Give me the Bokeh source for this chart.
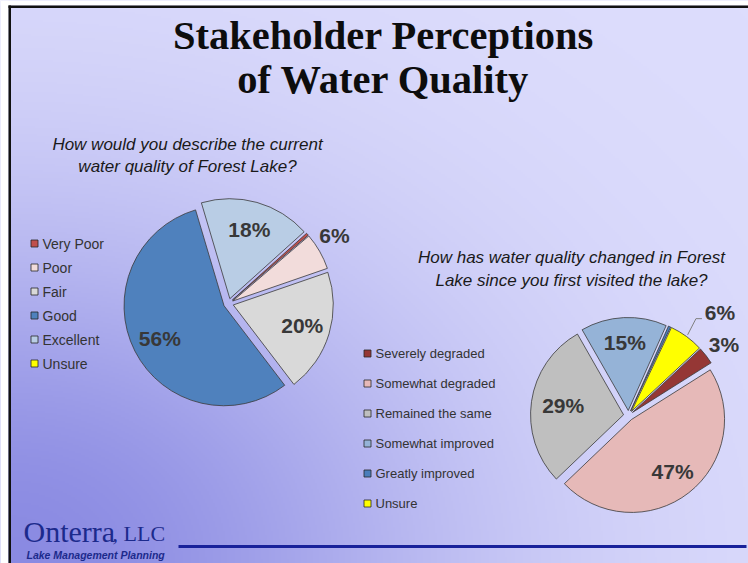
import numpy as np
from bokeh.plotting import figure
from bokeh.models import Range1d, ColumnDataSource
from bokeh.core.properties import value
from bokeh.embed import file_html
from bokeh.resources import INLINE

# ---------------- data ----------------
title_lines = ["Stakeholder Perceptions", "of Water Quality"]

q1_lines = ["How would you describe the current", "water quality of Forest Lake?"]
q1_categories = ["Very Poor", "Poor", "Fair", "Good", "Excellent", "Unsure"]
q1_values = [0.4, 6, 20, 56, 18, 0]
q1_labels = ["", "6%", "20%", "56%", "18%", ""]

q2_lines = ["How has water quality changed in Forest", "Lake since you first visited the lake?"]
q2_categories = ["Severely degraded", "Somewhat degraded", "Remained the same",
                 "Somewhat improved", "Greatly improved", "Unsure"]
q2_values = [3, 47, 29, 15, 0.4, 6]
q2_labels = ["3%", "47%", "29%", "15%", "", "6%"]

logo_name = "Onterra"
logo_suffix = ", LLC"
logo_tagline = "Lake Management Planning"

# ---------------- styles ----------------
q1_colors = ["#c0504d", "#f2dcdb", "#d9d9d9", "#4f81bd", "#b9cde5", "#ffff00"]
q2_colors = ["#953735", "#e6b9b8", "#bfbfbf", "#95b3d7", "#4a7ebb", "#ffff00"]
q1_label_dist = [0, 1.26, 0.77, 0.77, 0.77, 0]
q1_label_turn = [0, -3, 0, 0, 0, 0]
q2_label_dist = [1.28, 0.77, 0.71, 0.79, 0, 1.48]
q2_label_turn = [1, 0, 0, 0, 0, 5.4]

W, H = 748, 563


def X(sx):
    return sx


def Y(sy):
    return H - sy


p = figure(width=W, height=H, x_range=Range1d(0, W), y_range=Range1d(0, H),
           output_backend="svg", toolbar_location=None, min_border=0,
           x_axis_location=None, y_axis_location=None)
p.grid.visible = False
p.outline_line_color = None
p.background_fill_color = "#dcdcfc"
p.border_fill_color = "white"

# ---------------- gradient background ----------------
nx, ny = 374, 282
gx = (np.arange(nx) + 0.5) * W / nx
gy = (np.arange(ny) + 0.5) * H / ny
GX, GY = np.meshgrid(gx, gy)
SX = GX
SY = H - GY
d = np.exp(-(((SX - 8) / 450.0) ** 2 + ((SY - 563) / 350.0) ** 2))
light = np.array([221.0, 221.0, 252.0])
dark = np.array([138.0, 138.0, 226.0])
rgb = light + (dark - light) * d[..., None]
img = np.zeros((ny, nx), dtype=np.uint32)
view = img.view(dtype=np.uint8).reshape((ny, nx, 4))
view[..., :3] = np.round(rgb).astype(np.uint8)
view[..., 3] = 255
p.image_rgba(image=[img], x=0, y=0, dw=W, dh=H)

# white page area outside the slide, then the frame lines (top and left)
p.quad(left=[0, 0], right=[8, W], bottom=[0, Y(5)], top=[H, H],
       fill_color="white", line_color=None)
p.quad(left=[8, 8], right=[W, 10.5], bottom=[Y(7.5), 0], top=[Y(5), Y(5)],
       fill_color="#111111", line_color=None)

# ---------------- title ----------------
p.text(x=[X(383), X(383)], y=[Y(35), Y(79)], text=title_lines,
       text_font=value("Liberation Serif"), text_font_style="bold",
       text_font_size="40.5px", text_align="center", text_baseline="middle",
       text_color="#0d0d0d")

# ---------------- questions ----------------
p.text(x=[X(187), X(187)], y=[Y(144), Y(166)], text=q1_lines,
       text_font=value("Liberation Sans"), text_font_style="italic",
       text_font_size="17px", text_align="center", text_baseline="middle",
       text_color="#1a1a1a")
p.text(x=[X(571), X(571)], y=[Y(257), Y(280)], text=q2_lines,
       text_font=value("Liberation Sans"), text_font_style="italic",
       text_font_size="17px", text_align="center", text_baseline="middle",
       text_color="#1a1a1a")


# ---------------- pies ----------------
def draw_pie(values, colors, labels, ldist, lturn, cx_s, cy_s, r, e, start_deg):
    v = np.asarray(values, float)
    frac = v / v.sum()
    ends = start_deg + np.cumsum(frac) * 360.0
    starts = ends - frac * 360.0
    mids = np.radians((starts + ends) / 2.0)
    cx, cy = X(cx_s), Y(cy_s)
    keep = v > 0
    src = ColumnDataSource(dict(
        x=list((cx + e * np.sin(mids))[keep]),
        y=list((cy + e * np.cos(mids))[keep]),
        start=list(np.radians(90 - ends)[keep]),
        end=list(np.radians(90 - starts)[keep]),
        color=[c for c, k in zip(colors, keep) if k]))
    p.wedge(x="x", y="y", radius=r, start_angle="start", end_angle="end",
            fill_color="color", line_color="#3a3a3a", line_width=0.8, source=src)
    lx, ly, lt = [], [], []
    for i, lab in enumerate(labels):
        if not lab:
            continue
        a = mids[i] + np.radians(lturn[i])
        lx.append(cx + ldist[i] * r * np.sin(a))
        ly.append(cy + ldist[i] * r * np.cos(a))
        lt.append(lab)
    p.text(x=lx, y=ly, text=lt, text_font=value("Liberation Sans"),
           text_font_style="bold", text_font_size="21px", text_align="center",
           text_baseline="middle", text_color="#383838")
    return cx, cy, mids, lx, ly, lt


draw_pie(q1_values, q1_colors, q1_labels, q1_label_dist, q1_label_turn,
         228, 303, 100, 5, 48)
cx2, cy2, mids2, lx2, ly2, lt2 = draw_pie(q2_values, q2_colors, q2_labels,
                                          q2_label_dist, q2_label_turn,
                                          628, 415, 93, 5, 47)

# leader line for the small "Unsure" slice of pie 2
iu = len(q2_values) - 1
a0 = mids2[iu]
sx0 = cx2 + 100 * np.sin(a0)
sy0 = cy2 + 100 * np.cos(a0)
k = lt2.index(q2_labels[iu])
ex, ey = lx2[k] - 18, ly2[k] - 6
p.line(x=[sx0, ex - 6, ex], y=[sy0, ey, ey], line_color="#808080", line_width=1)


# ---------------- legends ----------------
def draw_legend(cats, colors, sq_x, y0, step, size, fsize):
    n = len(cats)
    ys = [Y(y0 + i * step) for i in range(n)]
    p.rect(x=[X(sq_x)] * n, y=ys, width=size, height=size,
           fill_color=colors, line_color="#262626", line_width=0.8)
    p.text(x=[X(sq_x + 8)] * n, y=ys, text=cats, text_font=value("Liberation Sans"),
           text_font_size=fsize, text_align="left", text_baseline="middle",
           text_color="#333333")


draw_legend(q1_categories, q1_colors, 34, 243, 24, 7, "14px")
draw_legend(q2_categories, q2_colors, 367, 353, 30, 7, "13px")

# ---------------- footer ----------------
p.segment(x0=[X(178)], y0=[Y(546)], x1=[X(746)], y1=[Y(546)],
          line_color="#18219a", line_width=3)
p.text(x=[X(23)], y=[Y(531)], text=[logo_name], text_font=value("Liberation Serif"),
       text_font_size="30px", text_baseline="middle", text_color="#1c2a8c")
p.text(x=[X(112)], y=[Y(533)], text=[logo_suffix], text_font=value("Liberation Serif"),
       text_font_size="22px", text_baseline="middle", text_color="#1c2a8c")
p.text(x=[X(26)], y=[Y(554)], text=[logo_tagline], text_font=value("Liberation Sans"),
       text_font_style="bold italic", text_font_size="10.5px", text_baseline="middle",
       text_color="#1c2a8c")

open("out.html", "w").write(file_html(p, INLINE))
